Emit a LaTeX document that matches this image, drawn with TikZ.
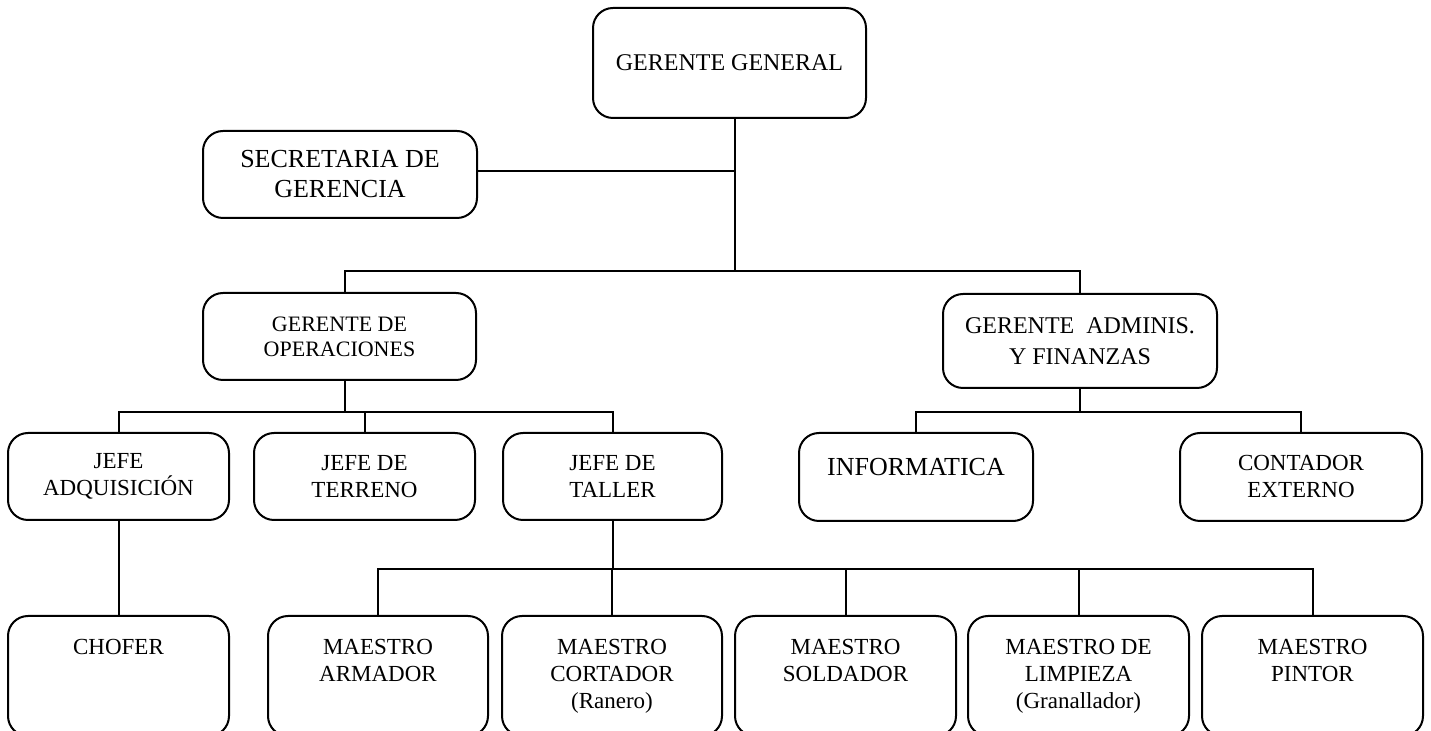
\documentclass[tikz,border=0pt]{standalone}
\usepackage{fontspec}
\setmainfont{Liberation Serif}
\begin{document}
\begin{tikzpicture}[
      x=0.5pt, y=-0.5pt,
      line width=1pt,
      cargo/.style={
        draw,
        rounded corners=10pt,
        align=center,
        inner sep=2pt,
        minimum width=110pt,
        minimum height=43.5pt,
        font=\fontsize{11.5}{13.5}\selectfont
      },
      arriba/.style={
        anchor=north,
        align=center,
        yshift=-8.5pt,
        font=\fontsize{11.5}{13.5}\selectfont
      }
    ]
      \useasboundingbox (0,0) rectangle (1431,731);
      \clip (0,0) rectangle (1431,731);

      \node (gg) at (729.5,63) [cargo,minimum width=136.5pt,minimum height=55pt,font=\fontsize{12}{14}\selectfont]{GERENTE GENERAL};
      \node (sec) at (340,174.5) [cargo,minimum width=137pt,font=\fontsize{13}{15}\selectfont]{SECRETARIA DE\\GERENCIA};
      \node (ops) at (339.5,336.5) [cargo,minimum width=136.5pt,font=\fontsize{11}{12.5}\selectfont]{GERENTE DE\\OPERACIONES};
      \node (fin) at (1080,341) [cargo,minimum width=137pt,minimum height=47pt,font=\fontsize{12}{15.5}\selectfont]{GERENTE~~ADMINIS.\\Y FINANZAS};

      \node (adq) at (118.5,476.5) [cargo,minimum width=110.5pt]{JEFE\\ADQUISICIÓN};
      \node (ter) at (364.5,476.5) [cargo,minimum width=110.5pt]{JEFE DE\\TERRENO};
      \node (tal) at (612.5,476.5) [cargo,minimum width=109.5pt]{JEFE DE\\TALLER};
      \node (inf) at (916,477) [cargo,minimum width=117pt,minimum height=44pt,
        label={[arriba,yshift=-1pt,font=\fontsize{13}{15}\selectfont]north:INFORMATICA}]{};
      \node (con) at (1301,477) [cargo,minimum width=121pt,minimum height=44pt]{CONTADOR\\EXTERNO};

      \node (cho) at (118.5,676) [cargo,minimum width=110.5pt,minimum height=60pt,label={[arriba]north:CHOFER}]{};
      \node (arm) at (378,676) [cargo,minimum height=60pt,label={[arriba]north:MAESTRO\\ARMADOR}]{};
      \node (cor) at (612,676) [cargo,minimum height=60pt,label={[arriba]north:MAESTRO\\CORTADOR\\(Ranero)}]{};
      \node (sol) at (845.5,676) [cargo,minimum width=110.5pt,minimum height=60pt,label={[arriba]north:MAESTRO\\SOLDADOR}]{};
      \node (lim) at (1078.5,676) [cargo,minimum width=110.5pt,minimum height=60pt,label={[arriba]north:MAESTRO DE\\LIMPIEZA\\(Granallador)}]{};
      \node (pin) at (1312.5,676) [cargo,minimum width=110.5pt,minimum height=60pt,label={[arriba]north:MAESTRO\\PINTOR}]{};

      % gerencia
      \coordinate (b1) at (735,271);
      \draw (gg.south -| b1) -- (b1);
      \draw ([yshift=1.75pt]sec.east) -- ([yshift=1.75pt]sec.east -| b1);
      \draw ([xshift=2.75pt]ops.north) |- (b1) -| (fin.north);

      % operaciones
      \draw ([xshift=2.75pt]ops.south) -- ++(0,31) coordinate (b2);
      \draw (adq.north) |- (b2) -| (tal.north);
      \draw (ter.north) -- (ter.north |- b2);
      \draw (adq.south) -- (cho.north);

      % finanzas
      \draw (fin.south) -- ++(0,23) coordinate (b3);
      \draw (inf.north) |- (b3) -| (con.north);

      % taller
      \draw (tal.south) -- ++(0,48) coordinate (b4);
      \draw (arm.north) |- (b4) -| (pin.north);
      \draw (cor.north) -- (cor.north |- b4);
      \draw (sol.north) -- (sol.north |- b4);
      \draw (lim.north) -- (lim.north |- b4);

    \end{tikzpicture}
\end{document}
